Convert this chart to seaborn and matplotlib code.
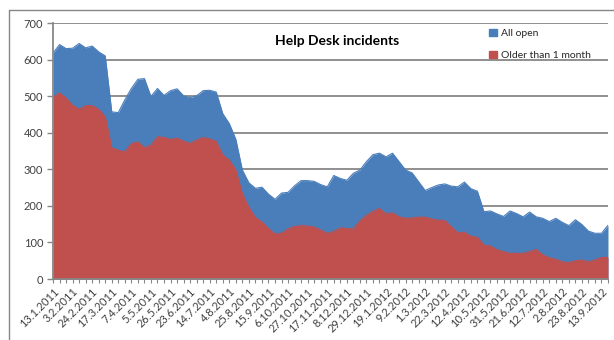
import pandas as pd
import seaborn as sns
import matplotlib.pyplot as plt
from matplotlib.patches import Patch
from matplotlib.lines import Line2D

# weekly counts
all_open = [618, 641, 630, 631, 644, 632, 637, 621, 610, 457,
            455, 490, 521, 546, 548, 499, 521, 502, 515, 520,
            501, 496, 501, 515, 516, 511, 452, 425, 382, 298,
            263, 248, 251, 232, 218, 235, 237, 255, 269, 269,
            267, 258, 252, 283, 275, 270, 289, 298, 321, 340,
            344, 334, 344, 321, 298, 290, 266, 242, 250, 257,
            260, 254, 252, 265, 247, 240, 184, 186, 178, 171,
            186, 179, 170, 183, 170, 166, 157, 166, 155, 146,
            162, 149, 131, 125, 125, 147]
older_than_month = [497, 509, 495, 475, 464, 474, 474, 464, 443, 359,
                    352, 348, 370, 375, 359, 366, 389, 387, 382, 385,
                    377, 371, 380, 387, 383, 376, 339, 325, 298, 233,
                    196, 168, 156, 138, 123, 125, 137, 144, 146, 145,
                    142, 134, 125, 130, 140, 138, 137, 159, 174, 185,
                    193, 178, 181, 170, 166, 167, 169, 169, 164, 161,
                    160, 143, 126, 128, 117, 114, 93, 90, 80, 75,
                    70, 70, 70, 75, 81, 66, 58, 54, 47, 45,
                    50, 52, 47, 52, 59, 59]
tick_labels = ['13.1.2011', '3.2.2011', '24.2.2011', '17.3.2011', '7.4.2011',
               '5.5.2011', '26.5.2011', '23.6.2011', '14.7.2011', '4.8.2011',
               '25.8.2011', '15.9.2011', '6.10.2011', '27.10.2011', '17.11.2011',
               '8.12.2011', '29.12.2011', '19.1.2012', '9.2.2012', '1.3.2012',
               '22.3.2012', '12.4.2012', '10.5.2012', '31.5.2012', '21.6.2012',
               '12.7.2012', '2.8.2012', '23.8.2012', '13.9.2012']

df = pd.DataFrame({'week': range(len(all_open)),
                   'All open': all_open,
                   'Older than 1 month': older_than_month})

sns.set_theme(style='white')
plt.rcParams['font.family'] = ['Lato', 'DejaVu Sans']

grey = '#878787'
colors = {'All open': '#4A7EBB', 'Older than 1 month': '#C0504D'}

fig = plt.figure(figsize=(6.14, 3.40), dpi=100)
ax = fig.add_axes([53 / 614, 1 - 279 / 340, (608 - 53) / 614, (279 - 23) / 340])

z = 2
for col in ['All open', 'Older than 1 month']:
    ax.fill_between(df['week'], 0, df[col], color=colors[col], lw=0, zorder=z)
    sns.lineplot(data=df, x='week', y=col, color=colors[col], lw=0.8, ax=ax, zorder=z + 1)
    z += 2

ax.set_xlim(0, len(all_open) - 1)
ax.set_ylim(0, 700)
ax.set_yticks(range(0, 701, 100))
ax.yaxis.grid(True, color=grey, lw=1.3)
ax.set_axisbelow(True)
ax.set_xlabel('')
ax.set_ylabel('')

ax.set_xticks(range(0, len(all_open), 3))
ax.set_xticklabels(tick_labels, rotation=45, ha='right', rotation_mode='anchor')
ax.set_xticks(range(len(all_open)), minor=True)

for s in ['top', 'right']:
    ax.spines[s].set_visible(False)
for s in ['left', 'bottom']:
    ax.spines[s].set_color(grey)
    ax.spines[s].set_linewidth(1.3)
    ax.spines[s].set_zorder(10)

ax.tick_params(axis='y', left=True, length=4, width=1, color=grey,
               labelsize=8, labelcolor='#404040', pad=3)
ax.tick_params(axis='x', which='both', bottom=True, length=3, width=0.8,
               color=grey, labelsize=8, labelcolor='#404040', pad=2)

handles = [Patch(color=colors[c], label=c) for c in colors]
ax.legend(handles=handles, frameon=False, loc='upper left',
          bbox_to_anchor=(484 / 614, 1 - 24 / 340), bbox_transform=fig.transFigure,
          fontsize=7.5, handlelength=0.7, handleheight=0.7, handletextpad=0.4,
          labelspacing=1.2, borderpad=0)

fig.text(337 / 614, 1 - 41 / 340, 'Help Desk incidents', ha='center', va='center',
         fontsize=10, fontweight='bold', color='black')

# chart area border
fig.add_artist(Line2D([9 / 614, 1], [1 - 10 / 340] * 2, color=grey, lw=1))
fig.add_artist(Line2D([9 / 614] * 2, [0, 1 - 10 / 340], color=grey, lw=1))

fig.savefig('out.png', dpi=100)
